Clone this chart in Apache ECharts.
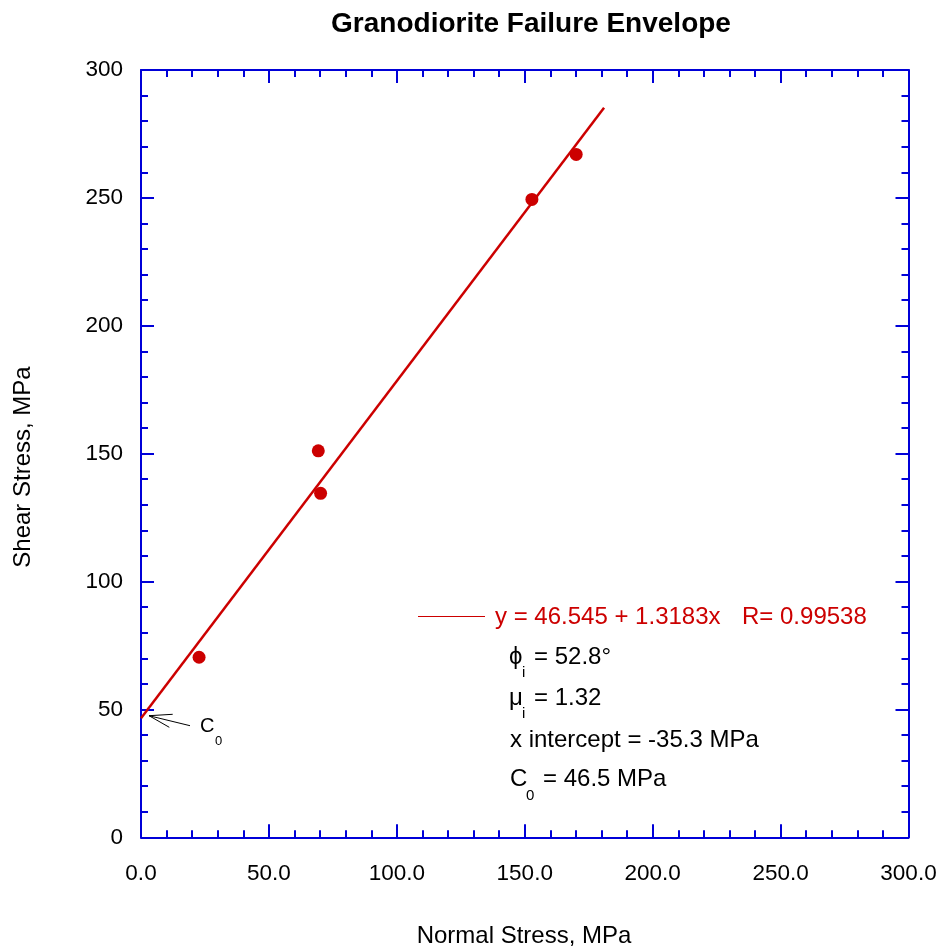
<!DOCTYPE html>
<html>
<head>
<meta charset="utf-8">
<script src="https://cdn.jsdelivr.net/npm/echarts@6/dist/echarts.min.js"></script>
<style>html,body{margin:0;padding:0;background:#fff}#c{width:944px;height:951px}</style>
</head>
<body>
<div id="c"></div>
<script>
// ---- data ----
var normalStress = [22.7, 69.3, 70.2, 152.8, 170.1];
var shearStress  = [70.4, 151.1, 134.5, 249.4, 267.0];
var fitX = [0, 181];
var fitY = [46.5, 285.2];
var xTicks = [0, 50, 100, 150, 200, 250, 300];
var yTicks = [0, 50, 100, 150, 200, 250, 300];

var FONT = "'Liberation Sans', Arial, Helvetica, sans-serif";
var BLUE = '#0000d8';
var RED = '#cc0000';

var chart = echarts.init(document.getElementById('c'), null, {renderer: 'canvas'});

function axisCommon(showLabel, fmt, margin) {
  return {
    type: 'value', min: xTicks[0], max: xTicks[xTicks.length - 1], interval: xTicks[1] - xTicks[0],
    axisLine: {show: true, onZero: false, lineStyle: {color: BLUE, width: 2}},
    axisTick: {show: true, inside: true, length: 13, lineStyle: {color: BLUE, width: 2}},
    minorTick: {show: true, splitNumber: 5, length: 7, lineStyle: {color: BLUE, width: 2}},
    splitLine: {show: false},
    axisLabel: {show: showLabel, color: '#000', fontFamily: FONT, fontSize: 22.5, margin: margin, formatter: fmt}
  };
}

var scatterData = normalStress.map(function (x, i) { return [x, shearStress[i]]; });
var lineData = fitX.map(function (x, i) { return [x, fitY[i]]; });

var xb = axisCommon(true, function (v) { return v.toFixed(1); }, 25); xb.position = 'bottom';
var xt = axisCommon(false, null, 8); xt.position = 'top';
var yl = axisCommon(true, function (v) { return String(v); }, 18); yl.position = 'left';
yl.min = yTicks[0]; yl.max = yTicks[yTicks.length - 1]; yl.interval = yTicks[1] - yTicks[0];
var yr = axisCommon(false, null, 8); yr.position = 'right';
yr.min = yTicks[0]; yr.max = yTicks[yTicks.length - 1]; yr.interval = yTicks[1] - yTicks[0];

var tx = function (text, x, y, size, color, extra) {
  var s = {text: text, x: x, y: y, font: size + 'px ' + FONT, fill: color || '#000', textVerticalAlign: 'middle', textAlign: 'left'};
  if (extra) for (var k in extra) s[k] = extra[k];
  return {type: 'text', silent: true, style: s};
};

chart.setOption({
  backgroundColor: '#fff',
  animation: false,
  title: {
    text: 'Granodiorite Failure Envelope', left: 526, top: 5, textAlign: 'center',
    textStyle: {fontFamily: FONT, fontSize: 28, fontWeight: 'bold', color: '#000'}
  },
  grid: {left: 141, right: 35.5, top: 70, bottom: 113.7, containLabel: false},
  xAxis: [xb, xt],
  yAxis: [yl, yr],
  series: [
    {type: 'line', xAxisIndex: 0, yAxisIndex: 0, data: lineData, showSymbol: false, symbol: 'none',
     lineStyle: {color: RED, width: 2.5}, z: 3},
    {type: 'scatter', xAxisIndex: 0, yAxisIndex: 0, data: scatterData, symbol: 'circle', symbolSize: 13,
     itemStyle: {color: RED, opacity: 1}, z: 4}
  ],
  graphic: [
    tx('Normal Stress, MPa', 524, 936, 24, '#000', {textAlign: 'center'}),
    {type: 'text', silent: true, x: 23, y: 467, rotation: Math.PI / 2,
     style: {text: 'Shear Stress, MPa', x: 0, y: 0, font: '24px ' + FONT, fill: '#000', textAlign: 'center', textVerticalAlign: 'middle'}},
    {type: 'line', silent: true, shape: {x1: 418, y1: 616.5, x2: 485, y2: 616.5}, style: {stroke: RED, lineWidth: 1}},
    tx('y = 46.545 + 1.3183x', 495, 617, 24, RED),
    tx('R= 0.99538', 742, 617, 24, RED),
    tx('\u03D5', 509, 657, 24),
    tx('i', 522, 673, 15),
    tx('= 52.8\u00B0', 534, 657, 24),
    tx('\u03BC', 509, 698, 24),
    tx('i', 522, 714, 15),
    tx('= 1.32', 534, 698, 24),
    tx('x intercept = -35.3 MPa', 510, 740, 24),
    tx('C', 510, 779, 24),
    tx('0', 526, 796, 15),
    tx('= 46.5 MPa', 543, 779, 24),
    {type: 'polyline', silent: true, shape: {points: [[190, 725.7], [149, 715.7]]}, style: {stroke: '#000', lineWidth: 1, fill: null}},
    {type: 'polyline', silent: true, shape: {points: [[172.7, 714.3], [149, 715.7], [169.3, 727.3]]}, style: {stroke: '#000', lineWidth: 1, fill: null}},
    tx('C', 200, 726, 20),
    tx('0', 215, 741, 13)
  ]
});
</script>
</body>
</html>
